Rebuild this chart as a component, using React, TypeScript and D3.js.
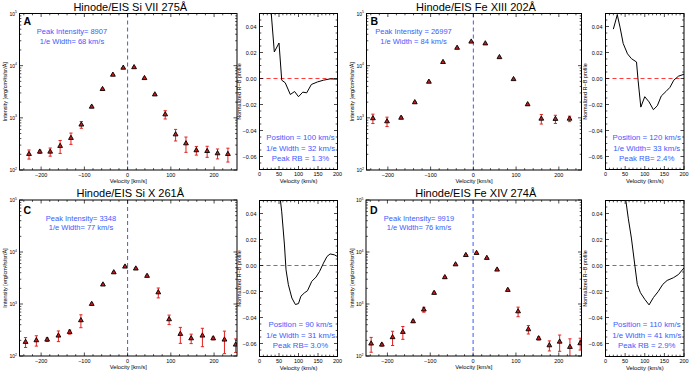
import React from 'react';
import * as d3 from 'd3';

const FONT = 'Liberation Sans, Arial, Helvetica, sans-serif';
const BLUE = '#3b5bff';
const RED = '#e52222';

// Panel A: Si VII 275
const velA = [-228, -203, -179, -156, -131, -107, -83, -58, -34, -10, 15, 39, 63, 87, 111, 135, 159, 184, 208, 232];
const intA = [202, 224, 224, 288, 410, 740, 1630, 3550, 6680, 9100, 9300, 5760, 2800, 1160, 480, 323, 238, 230, 208, 202];
const errA = [40, 15, 40, 80, 100, 110, 60, 80, 100, 120, 120, 100, 80, 210, 120, 105, 45, 55, 45, 60];

// Panel B: Fe XIII 202
const velB = [-235, -202, -169, -137, -104, -71, -38, -5, 28, 61, 94, 127, 159, 192, 225];
const intB = [977, 855, 1000, 1980, 4900, 11700, 21900, 28800, 26600, 14500, 5500, 1810, 960, 950, 960];
const errB = [200, 175, 40, 60, 100, 200, 300, 300, 300, 250, 150, 80, 200, 170, 115];

// Panel C: Si X 261
const velC = [-236, -211, -186, -160, -134, -108, -83, -57, -32, -6, 19, 45, 71, 96, 122, 147, 173, 198, 224, 250];
const intC = [186, 200, 206, 246, 289, 485, 1000, 2360, 4050, 5220, 4790, 3460, 1670, 507, 265, 218, 246, 218, 206, 165];
const errC = [40, 45, 16, 57, 26, 135, 40, 80, 120, 150, 150, 120, 360, 105, 90, 45, 95, 13, 95, 48];

// Panel D: Fe XIV 274
const velD = [-238, -213, -188, -164, -140, -115, -91, -66, -41, -17, 8, 32, 56, 81, 105, 129, 153, 178, 202, 226, 250];
const intD = [173, 165, 229, 289, 464, 780, 1630, 3260, 5760, 8700, 9550, 7670, 4570, 1860, 720, 325, 218, 160, 188, 149, 175];
const errD = [55, 10, 70, 80, 25, 85, 60, 100, 150, 200, 200, 150, 100, 70, 150, 60, 15, 35, 65, 65, 45];

// R-B asymmetry profiles
const rbVelA = [28, 38, 50, 57, 66, 79, 90, 100, 111, 121, 133, 149, 164, 181, 200];
const rbA = [0.058, 0.0204, 0.0273, -0.0013, -0.0033, -0.0123, -0.010, -0.014, -0.0105, -0.011, -0.0046, -0.0026, -0.0013, -0.0003, -0.0005];
const rbVelB = [20, 30, 37, 45, 56, 66, 79, 83, 90, 100, 111, 122, 132, 142, 154, 164, 174, 186, 200];
const rbB = [0.038, 0.049, 0.0395, 0.027, 0.019, 0.0153, 0.0127, -0.0013, -0.022, -0.014, -0.018, -0.024, -0.021, -0.0135, -0.010, -0.0069, -0.0013, 0.0018, 0.0033];
const rbVelC = [48, 57, 64, 68, 74, 83, 92, 100, 106, 115, 123, 134, 145, 154, 164, 173, 181, 192, 200];
const rbC = [0.065, 0.0413, 0.0158, -0.0033, -0.0148, -0.025, -0.030, -0.0293, -0.0237, -0.0211, -0.0194, -0.0122, -0.0089, -0.0046, 0.0018, 0.0069, 0.0089, 0.0082, 0.0069];
const rbVelD = [45, 58, 66, 75, 81, 89, 100, 111, 122, 134, 146, 157, 173, 186, 200];
const rbD = [0.065, 0.0364, 0.0211, -0.0005, -0.0145, -0.0209, -0.026, -0.0303, -0.0247, -0.0201, -0.0145, -0.0115, -0.0094, -0.0069, -0.0018];

const profXTicks = [-200, -100, 0, 100, 200];
const profYTicks = [2, 3, 4, 5];
const rbXTicks = [0, 50, 100, 150, 200];
const rbYTicks = [-0.06, -0.04, -0.02, 0.0, 0.02, 0.04];

function Frame({ w, h, xMaj, xMin, yMaj, yMin }) {
  const M = 3.5, m = 1.8;
  const segs = [];
  xMaj.forEach(p => { segs.push([p, h, p, h - M], [p, 0, p, M]); });
  xMin.forEach(p => { segs.push([p, h, p, h - m], [p, 0, p, m]); });
  yMaj.forEach(p => { segs.push([0, p, M, p], [w, p, w - M, p]); });
  yMin.forEach(p => { segs.push([0, p, m, p], [w, p, w - m, p]); });
  return (
    <g>
      <path d={segs.map(s => `M${s[0]},${s[1]}L${s[2]},${s[3]}`).join('')} stroke="#000" strokeWidth={0.7} fill="none" />
      <rect width={w} height={h} fill="none" stroke="#000" strokeWidth={1} />
    </g>
  );
}

function ProfilePanel({ id, left, top, w, h, vel, inten, err, title, letter, peak, width, textX, letterY }) {
  const x = d3.scaleLinear().domain([-250, 253]).range([0, w]);
  const y = d3.scaleLog().domain([100, 1e5]).range([h, 0]);
  const xMin = d3.range(-240, 260, 20).filter(v => v % 100 !== 0).map(x);
  const yMin = [];
  [100, 1000, 10000].forEach(d => { for (let k = 2; k < 10; k++) yMin.push(y(d * k)); });
  const tri = 'M0,-2.8L2.4,1.4L-2.4,1.4Z';
  return (
    <g transform={`translate(${left},${top})`} fontFamily={FONT}>
      <defs>
        <clipPath id={id}><rect width={w} height={h} /></clipPath>
      </defs>
      <text x={w / 2 + 2} y={-3} fontSize={11} textAnchor="middle">{title}</text>
      <g clipPath={`url(#${id})`}>
        <line x1={x(0)} x2={x(0)} y1={0} y2={h} stroke={BLUE} strokeWidth={1} strokeDasharray="4,3" />
        {vel.map((v, i) => {
          const lo = Math.max(inten[i] - err[i], 50);
          const hi = inten[i] + err[i];
          const cx = x(v);
          return (
            <g key={i}>
              <path d={`M${cx},${y(lo)}V${y(hi)}M${cx - 1.6},${y(lo)}h3.2M${cx - 1.6},${y(hi)}h3.2`} stroke={RED} strokeWidth={1} fill="none" />
              <path d={tri} transform={`translate(${cx},${y(inten[i])})`} fill="#d01818" stroke="#000" strokeWidth={0.9} />
            </g>
          );
        })}
      </g>
      <Frame w={w} h={h} xMaj={profXTicks.map(x)} xMin={xMin} yMaj={profYTicks.map(e => y(10 ** e))} yMin={yMin} />
      <text x={4} y={letterY} fontSize={10.5} fontWeight="bold">{letter}</text>
      <text x={textX} y={20.5} fontSize={7.5} fill={BLUE} textAnchor="middle">{peak}</text>
      <text x={textX} y={30} fontSize={7.5} fill={BLUE} textAnchor="middle">{width}</text>
      {profXTicks.map(t => (
        <text key={t} x={x(t)} y={h + 6.5} fontSize={5.5} textAnchor="middle">{t === 0 ? '0' : t < 0 ? `\u2212${-t}` : t}</text>
      ))}
      {profYTicks.map(e => (
        <text key={e} x={-2.5} y={y(10 ** e) + 2} fontSize={5} textAnchor="end">10<tspan dy={-2.5} fontSize={3.5}>{e}</tspan></text>
      ))}
      <text x={w / 2} y={h + 13} fontSize={5.8} textAnchor="middle">Velocity [km/s]</text>
      <text transform={`translate(${-12.5},${h / 2}) rotate(-90)`} fontSize={5.5} textAnchor="middle">Intensity [erg/cm²/s/sr/Å]</text>
    </g>
  );
}

function RBPanel({ id, left, top, w, h, vel, rb, lines }) {
  const x = d3.scaleLinear().domain([0, 200]).range([0, w]);
  const y = d3.scaleLinear().domain([-0.07, 0.05]).range([h, 0]);
  const xMin = d3.range(10, 200, 10).filter(v => v % 50 !== 0).map(x);
  const yMin = d3.range(-0.07, 0.0501, 0.005).filter(v => Math.abs(Math.round(v * 1000) % 20) !== 0).map(y);
  const line = d3.line().x(d => x(d[0])).y(d => y(d[1]));
  return (
    <g transform={`translate(${left},${top})`} fontFamily={FONT}>
      <defs>
        <clipPath id={id}><rect width={w} height={h} /></clipPath>
      </defs>
      <g clipPath={`url(#${id})`}>
        <line x1={0} x2={w} y1={y(0)} y2={y(0)} stroke="#ff3b3b" strokeWidth={1.1} strokeDasharray="4,3" />
        <path d={line(vel.map((v, i) => [v, rb[i]]))} fill="none" stroke="#000" strokeWidth={1} />
      </g>
      <Frame w={w} h={h} xMaj={rbXTicks.map(x)} xMin={xMin} yMaj={rbYTicks.map(y)} yMin={yMin} />
      {lines.map((s, i) => (
        <text key={i} x={w / 2 + 2} y={126.5 + i * 10.5} fontSize={7.8} fill={BLUE} textAnchor="middle">{s}</text>
      ))}
      {rbXTicks.map(t => (
        <text key={t} x={x(t)} y={h + 6.5} fontSize={5.5} textAnchor="middle">{t}</text>
      ))}
      {rbYTicks.map(t => (
        <text key={t} x={-3} y={y(t) + 2} fontSize={5.5} textAnchor="end">{t < 0 ? `\u2212${(-t).toFixed(2)}` : t.toFixed(2)}</text>
      ))}
      <text x={w / 2} y={h + 13} fontSize={5.8} textAnchor="middle">Velocity (km/s)</text>
      <text transform={`translate(${-18.5},${h / 2}) rotate(-90)`} fontSize={5.5} textAnchor="middle">Normalized R−B profile</text>
    </g>
  );
}

export default function App() {
  return (
    <div style={{ position: 'absolute', left: 0, top: 0 }}>
      <svg width={690} height={374} style={{ display: 'block', background: '#fff' }}>
        <ProfilePanel id="cA" left={19.5} top={13.5} w={217.5} h={156.5} vel={velA} inten={intA} err={errA}
          title="Hinode/EIS Si VII 275Å" letter="A" peak="Peak Intensity= 8907" width="1/e Width= 68 km/s" textX={52.5} letterY={11} />
        <RBPanel id="rA" left={259.5} top={13.5} w={78} h={156} vel={rbVelA} rb={rbA}
          lines={['Position = 100 km/s', '1/e Width = 32 km/s', 'Peak RB = 1.3%']} />
        <ProfilePanel id="cB" left={366.5} top={13.5} w={215} h={156.5} vel={velB} inten={intB} err={errB}
          title="Hinode/EIS Fe XIII 202Å" letter="B" peak="Peak Intensity = 26997" width="1/e Width = 84 km/s" textX={47} letterY={11} />
        <RBPanel id="rB" left={605.5} top={13.5} w={78.5} h={156} vel={rbVelB} rb={rbB}
          lines={['Position = 120 km/s', '1/e Width= 33 km/s', 'Peak RB= 2.4%']} />
        <ProfilePanel id="cC" left={19.5} top={200} w={217.5} h={156} vel={velC} inten={intC} err={errC}
          title="Hinode/EIS Si X 261Å" letter="C" peak="Peak Intensity= 3348" width="1/e Width= 77 km/s" textX={61.5} letterY={13.5} />
        <RBPanel id="rC" left={259.5} top={200.5} w={78} h={156} vel={rbVelC} rb={rbC}
          lines={['Position = 90 km/s', '1/e Width = 31 km/s', 'Peak RB= 3.0%']} />
        <ProfilePanel id="cD" left={366} top={200} w={215.5} h={156} vel={velD} inten={intD} err={errD}
          title="Hinode/EIS Fe XIV 274Å" letter="D" peak="Peak Intensity= 9919" width="1/e Width= 76 km/s" textX={53} letterY={13.5} />
        <RBPanel id="rD" left={605.5} top={200.5} w={78.5} h={156} vel={rbVelD} rb={rbD}
          lines={['Position = 110 km/s', '1/e Width = 41 km/s', 'Peak RB = 2.9%']} />
      </svg>
    </div>
  );
}
